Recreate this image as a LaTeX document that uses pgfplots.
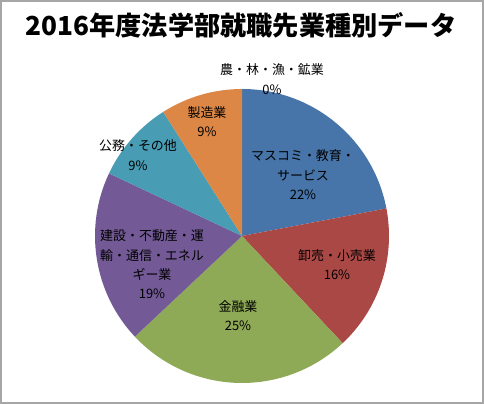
\documentclass[border=0pt]{standalone}
\usepackage{pgfplots}
\pgfplotsset{compat=1.18}
\usepackage{pgfplotstable}
\usepackage{fontspec}
\setmainfont{Noto Sans CJK JP}
\definecolor{cA}{HTML}{7F7F7F}
\definecolor{cB}{HTML}{4774A9}
\definecolor{cC}{HTML}{AA4845}
\definecolor{cD}{HTML}{8FAA56}
\definecolor{cE}{HTML}{735A96}
\definecolor{cF}{HTML}{489CB4}
\definecolor{cG}{HTML}{DC8746}
\definecolor{frame}{HTML}{A6A6A6}
\pgfplotstableread{
val col
0 cA
22 cB
16 cC
25 cD
19 cE
9 cF
9 cG
}\piedata
\begin{document}
\begin{tikzpicture}[lbl/.style={align=center,font=\fontsize{13}{19.5}\selectfont,text=black}]
\begin{axis}[width=484bp,height=404bp,scale only axis,
  xmin=0,xmax=484,ymin=0,ymax=404,hide axis,clip=false]
\def\startang{90}
\pgfplotsforeachungrouped \i in {0,...,6}{%
  \pgfplotstablegetelem{\i}{val}\of\piedata \let\v\pgfplotsretval
  \pgfplotstablegetelem{\i}{col}\of\piedata \let\c\pgfplotsretval
  \pgfmathsetmacro\endang{\startang-3.6*\v}%
  \edef\temp{\noexpand\fill[\c] (axis cs:242,168) -- ++(\startang:147bp) arc[start angle=\startang, end angle=\endang, radius=147bp] -- cycle;}%
  \temp
  \global\let\startang\endang
}
\node[font=\fontsize{26.3}{30}\selectfont\bfseries] at (axis cs:241,379) {2016年度法学部就職先業種別データ};
\node[lbl] at (axis cs:272,325) {農・林・漁・鉱業\\0\%};
\node[lbl] at (axis cs:207,282.5) {製造業\\9\%};
\node[lbl] at (axis cs:138,249) {公務・その他\\9\%};
\node[lbl] at (axis cs:152,139.5) {建設・不動産・運\\輸・通信・エネル\\ギー業\\19\%};
\node[lbl] at (axis cs:303,229) {マスコミ・教育・\\サービス\\22\%};
\node[lbl] at (axis cs:337,139.5) {卸売・小売業\\16\%};
\node[lbl] at (axis cs:238,88.5) {金融業\\25\%};
\draw[frame,line width=2bp] (axis cs:1,1) rectangle (axis cs:483,403);
\end{axis}
\end{tikzpicture}
\end{document}
